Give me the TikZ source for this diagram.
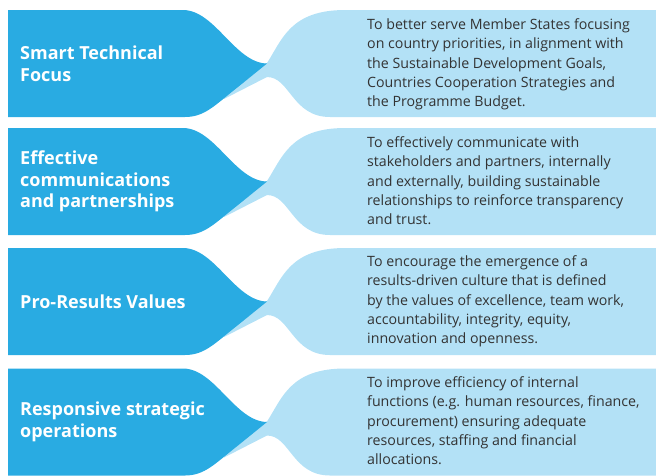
\documentclass[tikz,border=0pt]{standalone}
\usepackage{fontspec}
\setmainfont{Open Sans}
\definecolor{darkb}{HTML}{29ABE2}
\definecolor{lightb}{HTML}{B3E1F6}
\definecolor{txt}{HTML}{333333}
\tikzset{
  darkshape/.style={fill=darkb, draw=none},
  lightshape/.style={fill=lightb, draw=none},
  title/.style={anchor=west, inner sep=0pt, align=left, text=white, font=\fontsize{18}{21.5}\selectfont\bfseries},
  desc/.style={anchor=base west, inner sep=0pt, align=left, text=txt, font=\fontsize{14.2}{19.3}\selectfont},
}
\begin{document}
\begin{tikzpicture}[x=1pt,y=-1pt]
\useasboundingbox (0,0) rectangle (656,475);
\foreach \t in {10,128,248,368.5}{
  \begin{scope}[shift={(0,\t)}]
    \fill[lightshape] (267,53) .. controls (282,30) and (290,0) .. (345,0) -- (656,0) -- (656,107) -- (330,107)
      .. controls (292,107) and (290,67) .. (267,67) -- (224,89) -- (218,70) -- cycle;
    \fill[darkshape] (8,0) -- (183,0) .. controls (215,0) and (235,53) .. (267,53.5) -- (238,77)
      .. controls (215,95) and (205,107) .. (185,107) -- (8,107) -- cycle;
  \end{scope}
}
\node[title] (t1) at (20,63.5) {Smart Technical\\Focus};
\node[title] (t2) at (20,181.5) {Effective\\communications\\and partnerships};
\node[title] (t3) at (20,301.5) {Pro-Results Values};
\node[title] (t4) at (20,422) {Responsive strategic\\operations};
\node[desc] (d1) at (367,106.7) {To better serve Member States focusing\\on country priorities, in alignment with\\the Sustainable Development Goals,\\Countries Cooperation Strategies and\\the Programme Budget.};
\node[desc] (d2) at (367,224.7) {To effectively communicate with\\stakeholders and partners, internally\\and externally, building sustainable\\relationships to reinforce transparency\\and trust.};
\node[desc] (d3) at (367,343.7) {To encourage the emergence of a\\results-driven culture that is defined\\by the values of excellence, team work,\\accountability, integrity, equity,\\innovation and openness.};
\node[desc] (d4) at (367,464.7) {To improve efficiency of internal\\functions (e.g. human resources, finance,\\procurement) ensuring adequate\\resources, staffing and financial\\allocations.};
\end{tikzpicture}
\end{document}
